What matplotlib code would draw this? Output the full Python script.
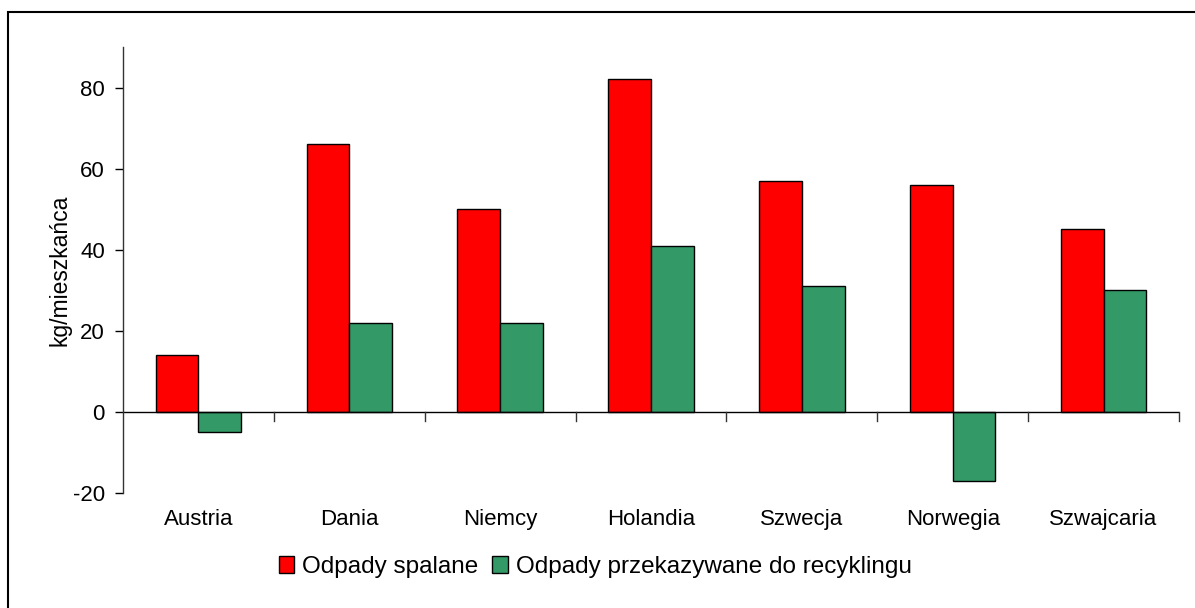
import matplotlib
matplotlib.use("Agg")
import matplotlib.pyplot as plt
import numpy as np
from matplotlib.patches import Rectangle

plt.rcParams['font.family'] = ['Liberation Sans', 'DejaVu Sans']
plt.rcParams['axes.unicode_minus'] = False

categories = ["Austria", "Dania", "Niemcy", "Holandia", "Szwecja", "Norwegia", "Szwajcaria"]
spalane = [14, 66, 50, 82, 57, 56, 45]
recykling = [-5, 22, 22, 41, 31, -17, 30]
series_names = ["Odpady spalane", "Odpady przekazywane do recyklingu"]
yticks = [-20, 0, 20, 40, 60, 80]

W, H = 1195, 608
fig = plt.figure(figsize=(W / 100, H / 100), dpi=100)

# outer frame (only top/left visible in reference)
fig.patches.append(Rectangle((8 / W, -0.05), 1.2, 1 - 12 / H + 0.05, transform=fig.transFigure,
                             fill=False, edgecolor='black', linewidth=1.5))

ax = fig.add_axes([123 / W, 1 - 493 / H, (1179 - 123) / W, (493 - 47) / H])

x = np.arange(len(categories))
bw = 0.283
ax.bar(x - bw / 2, spalane, bw, color='#FF0000', edgecolor='black', linewidth=1.0, label=series_names[0])
ax.bar(x + bw / 2, recykling, bw, color='#339966', edgecolor='black', linewidth=1.0, label=series_names[1])

ax.set_xlim(-0.5, len(categories) - 0.5)
ax.set_ylim(-20, 90)
ax.set_yticks(yticks)
ax.tick_params(axis='y', direction='out', length=6, width=1, labelsize=16, pad=7)

for s in ['top', 'right', 'bottom']:
    ax.spines[s].set_visible(False)
ax.spines['left'].set_linewidth(1)
ax.spines['left'].set_color('#333333')

# x-axis at zero with downward tick marks between categories
ax.axhline(0, color='black', linewidth=1)
ax.set_xticks([])
trans = ax.get_xaxis_transform()
for b in np.arange(0.5, len(categories), 1.0):
    ax.plot([b, b], [0, -2.2], color='#333333', linewidth=1, clip_on=False)
for i, c in enumerate(categories):
    ax.text(i, -0.035, c, transform=trans, ha='center', va='top', fontsize=16)

ax.set_ylabel("kg/mieszkańca", fontsize=16.5)
ax.yaxis.set_label_coords(-0.049, 0.5)

leg = fig.legend(loc='center', bbox_to_anchor=(595 / W, 1 - 567 / H), ncol=2, frameon=False,
                 fontsize=17.5, handlelength=0.65, handleheight=0.65, handletextpad=0.3,
                 columnspacing=0.6)

fig.savefig("out.png", dpi=100)
